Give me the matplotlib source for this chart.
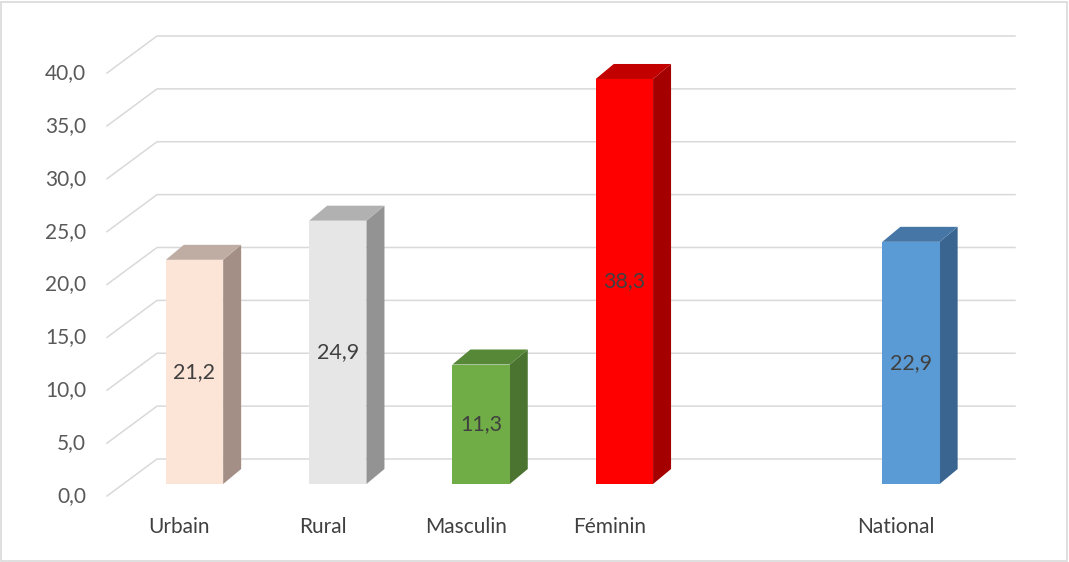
import matplotlib.pyplot as plt
from matplotlib.patches import Polygon, Rectangle

categories = ["Urbain", "Rural", "Masculin", "Féminin", "National"]
positions = [0, 1, 2, 3, 5]
values = [21.2, 24.9, 11.3, 38.3, 22.9]
front_colors = ["#FCE4D6", "#E7E6E6", "#70AD47", "#FF0000", "#5B9BD5"]
side_colors = ["#A38F86", "#939393", "#4B7430", "#A50000", "#3B6591"]
top_colors = ["#BFADA4", "#B1B1B1", "#568838", "#C20000", "#4576A6"]
yticks = [0, 5, 10, 15, 20, 25, 30, 35, 40]

plt.rcParams["font.family"] = ["Lato", "DejaVu Sans"]

fig = plt.figure(figsize=(10.69, 5.62), dpi=100)
W, H = 1069, 562
ax = fig.add_axes([107 / W, (H - 484) / H, (1015 - 107) / W, (484 - 61) / H])
x0, x1 = (107 - 194.5) / 143.3, (1015 - 194.5) / 143.3
ax.set_xlim(x0, x1)
ax.set_ylim(0, 40)
ax.axis("off")

# pixel -> data units
sx = (1015 - 107) / (x1 - x0)
sy = (484 - 61) / 40.0


def px(dx, dy):
    return dx / sx, dy / sy


# figure border
fig.patches.append(Rectangle((1 / W, 1 / H), 1 - 3 / W, 1 - 3 / H, transform=fig.transFigure,
                             fill=False, edgecolor="#D9D9D9", lw=1.2))

# back wall gridlines with slanted left part
fdx, fdy = px(0, -12)
bdx, bdy = px(50, 25)
for v in yticks:
    ax.plot([x0 + fdx, x0 + bdx, x1], [v + fdy, v + bdy, v + bdy],
            color="#D9D9D9", lw=1.1, clip_on=False, zorder=1)
    ax.text(x0 + px(-21, 0)[0], v + fdy, f"{v:.1f}".replace(".", ","),
            ha="right", va="center", fontsize=15, color="#595959")

# bars with pseudo 3D faces
w = 0.4
ddx, ddy = px(18, 15)
for x, v, cf, cs, ct in zip(positions, values, front_colors, side_colors, top_colors):
    l, r = x - w / 2, x + w / 2
    ax.add_patch(Polygon([(r, 0), (r + ddx, ddy), (r + ddx, v + ddy), (r, v)],
                         facecolor=cs, edgecolor="none", zorder=3, clip_on=False))
    ax.add_patch(Polygon([(l, v), (l + ddx, v + ddy), (r + ddx, v + ddy), (r, v)],
                         facecolor=ct, edgecolor="none", zorder=3, clip_on=False))
    ax.bar(x, v, width=w, color=cf, zorder=4, clip_on=False)
    ax.text(x, v / 2, f"{v:.1f}".replace(".", ","), ha="center", va="center",
            fontsize=15.5, color="#404040", zorder=5)

# category labels on the front edge
cdx, cdy = px(-15, -43)
for x, c in zip(positions, categories):
    ax.text(x + cdx, cdy, c, ha="center", va="center", fontsize=15, color="#404040")

fig.savefig("out.png", dpi=100)
